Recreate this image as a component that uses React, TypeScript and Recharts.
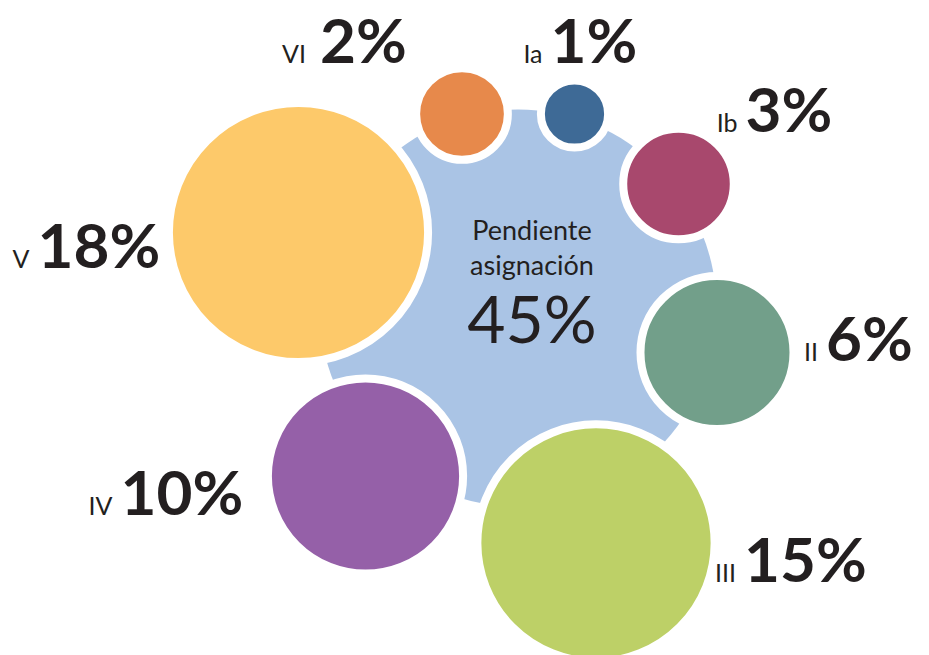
import React from "react";
import { ScatterChart, Scatter, XAxis, YAxis, ZAxis } from "recharts";

// Categories and their share (%). The first one is the big central bubble.
const categories = ["Pendiente asignación", "Ia", "Ib", "II", "III", "IV", "V", "VI"];
const values = [45, 1, 3, 6, 15, 10, 18, 2];

// Bubble centres in the chart's own x/y space (0..929, 0..655 from the top)
const xPos = [518, 574.5, 678.5, 717, 596, 365.5, 298.5, 462];
const yPos = [308, 114, 184, 352.5, 543, 476, 232.5, 114];

const colors = ["#AAC4E5", "#3E6A96", "#A8486D", "#729F8A", "#BDD067", "#9560A8", "#FDC96A", "#E7894B"];

// where the "NN%" label starts, relative to the bubble centre
const labelDx = [14, -24, 67, 109, 148, -245, -261, -142];
const labelDy = [0, -51, -52, 8, 39, 39, 35, -51];

const W = 929;
const H = 655;
const K = 29.6; // px of radius per sqrt(percent)
const TEXT = "#231F20";
const FONT = "Lato, 'DejaVu Sans', sans-serif";

const data = categories.map((name, i) => ({
  name,
  value: values[i],
  x: xPos[i],
  y: yPos[i],
  color: colors[i],
  dx: labelDx[i],
  dy: labelDy[i],
}));

const BubbleShape = (props: any) => {
  const { cx, cy, width, size, payload } = props;
  const r = width ? width / 2 : Math.sqrt(size / Math.PI);
  const { color, name, value, dx, dy } = payload;

  if (value === 45) {
    // the central bubble with its text inside
    const tx = cx + dx;
    const [l1, l2] = name.split(" ");
    return (
      <g>
        <circle cx={cx} cy={cy} r={r} fill={color} />
        <text x={tx} y={cy - 68} textAnchor="middle" fontFamily={FONT} fontSize={27} fill={TEXT}>
          {l1}
        </text>
        <text x={tx} y={cy - 33} textAnchor="middle" fontFamily={FONT} fontSize={27} fill={TEXT}>
          {l2}
        </text>
        <text x={tx} y={cy + 35} textAnchor="middle" fontFamily={FONT} fontSize={66} fill={TEXT}>
          {value}%
        </text>
      </g>
    );
  }

  const nx = cx + dx;
  const ny = cy + dy;
  const gap = name === "VI" ? 14 : 8;
  return (
    <g>
      <circle cx={cx} cy={cy} r={r + 4} fill={color} stroke="#ffffff" strokeWidth={8} />
      <text x={nx - gap} y={ny} textAnchor="end" fontFamily={FONT} fontSize={25} fill={TEXT}>
        {name}
      </text>
      <text x={nx} y={ny} textAnchor="start" fontFamily={FONT} fontWeight={700} fontSize={62} fill={TEXT}>
        {value}%
      </text>
    </g>
  );
};

export default function App() {
  return (
    <div style={{ position: "absolute", left: 0, top: 0, width: W, height: H, background: "#fff" }}>
      <ScatterChart width={W} height={H} margin={{ top: 0, right: 0, bottom: 0, left: 0 }}>
        <XAxis type="number" dataKey="x" domain={[0, W]} hide />
        <YAxis type="number" dataKey="y" domain={[0, H]} reversed hide />
        <ZAxis type="number" dataKey="value" domain={[0, 45]} range={[0, Math.PI * K * K * 45]} />
        <Scatter data={data} shape={<BubbleShape />} isAnimationActive={false} />
      </ScatterChart>
    </div>
  );
}
